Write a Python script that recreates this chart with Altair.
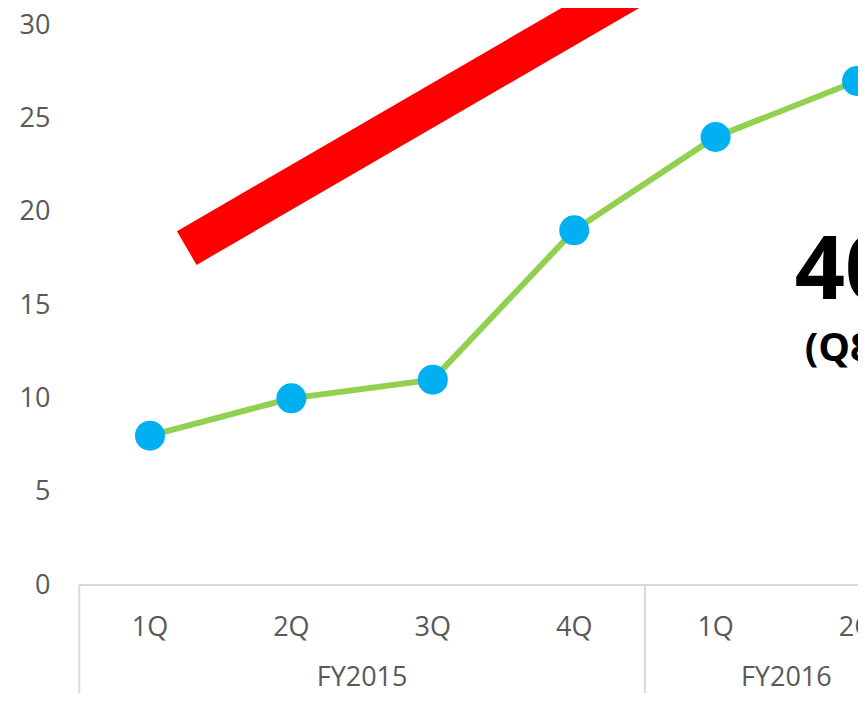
import altair as alt
import pandas as pd

# ---- data ----
quarters = ["1Q", "2Q", "3Q", "4Q", "1Q", "2Q"]
years = ["FY2015", "FY2015", "FY2015", "FY2015", "FY2016", "FY2016"]
values = [8, 10, 11, 19, 24, 27]

year_labels = ["FY2015", "FY2016"]
year_centers = [1.5, 4.5]
group_dividers = [-0.5, 3.5]

arrow_start = (0.26, 18.05)
arrow_end = (3.66, 33.0)

big_text = ["40%"]
sub_text = ["(Q8 vs Q1)"]

# ---- tables ----
df = pd.DataFrame({"idx": list(range(len(values))), "quarter": quarters,
                   "year": years, "value": values})
df_years = pd.DataFrame({"idx": year_centers, "year": year_labels})
df_div = pd.DataFrame({"idx": group_dividers})
df_arrow = pd.DataFrame({"x": [arrow_start[0]], "y": [arrow_start[1]],
                         "x2": [arrow_end[0]], "y2": [arrow_end[1]]})
df_base = pd.DataFrame({"x": [-0.5], "x2": [5.2], "y": [0]})
df_big = pd.DataFrame({"x": [4.56], "y": [15.3], "t": big_text})
df_sub = pd.DataFrame({"x": [4.63], "y": [12.0], "t": sub_text})

FONT = "Open Sans"
GREY = "#595959"
AXIS_LINE = "#d9d9d9"
LABEL_SIZE = 27

PLOT_H = 571

xscale = alt.Scale(domain=[-0.495, 5.007], nice=False, zero=False)
yscale = alt.Scale(domain=[0, 30.59], nice=False, zero=False)
yaxis = alt.Axis(values=[0, 5, 10, 15, 20, 25, 30], title=None, domain=False,
                 ticks=False, tickSize=0, grid=False, labelPadding=30,
                 labelFontSize=LABEL_SIZE, labelColor=GREY, labelFont=FONT)

line = alt.Chart(df).mark_line(color="#92D050", strokeWidth=6).encode(
    x=alt.X("idx:Q", scale=xscale, axis=None),
    y=alt.Y("value:Q", scale=yscale, axis=yaxis),
)
points = alt.Chart(df).mark_circle(color="#00B0F0", size=900, opacity=1).encode(
    x=alt.X("idx:Q", scale=xscale, axis=None),
    y=alt.Y("value:Q", scale=yscale, axis=yaxis),
)
arrow = alt.Chart(df_arrow).mark_rule(color="#FF0000", strokeWidth=39,
                                      strokeCap="butt", clip=False).encode(
    x=alt.X("x:Q", scale=xscale, axis=None), x2="x2:Q",
    y=alt.Y("y:Q", scale=yscale, axis=yaxis), y2="y2:Q",
)
baseline = alt.Chart(df_base).mark_rule(color=AXIS_LINE, strokeWidth=2).encode(
    x=alt.X("x:Q", scale=xscale, axis=None), x2="x2:Q",
    y=alt.Y("y:Q", scale=yscale, axis=yaxis),
)
dividers = alt.Chart(df_div).mark_rule(color=AXIS_LINE, strokeWidth=2).encode(
    x=alt.X("idx:Q", scale=xscale, axis=None),
    y=alt.value(PLOT_H), y2=alt.value(PLOT_H + 120),
)
qlabels = alt.Chart(df).mark_text(font=FONT, fontSize=LABEL_SIZE, color=GREY,
                                  baseline="middle", align="center").encode(
    x=alt.X("idx:Q", scale=xscale, axis=None),
    y=alt.value(614), text="quarter:N",
)
ylabels = alt.Chart(df_years).mark_text(font=FONT, fontSize=LABEL_SIZE, color=GREY,
                                        baseline="middle", align="center").encode(
    x=alt.X("idx:Q", scale=xscale, axis=None),
    y=alt.value(664), text="year:N",
)
big = alt.Chart(df_big).mark_text(font=FONT, fontSize=88, fontWeight="bold",
                                  color="#000000", align="left",
                                  baseline="alphabetic").encode(
    x=alt.X("x:Q", scale=xscale, axis=None),
    y=alt.Y("y:Q", scale=yscale, axis=yaxis), text="t:N",
)
sub = alt.Chart(df_sub).mark_text(font=FONT, fontSize=40, fontWeight="bold",
                                  color="#000000", align="left",
                                  baseline="alphabetic").encode(
    x=alt.X("x:Q", scale=xscale, axis=None),
    y=alt.Y("y:Q", scale=yscale, axis=yaxis), text="t:N",
)

chart = alt.layer(baseline, dividers, arrow, line, points, qlabels, ylabels,
                  big, sub).properties(
    width=778, height=PLOT_H,
    autosize=alt.AutoSizeParams(type="none"),
    padding={"left": 72, "top": 6, "right": 0, "bottom": 108},
    background="white",
).configure_view(stroke=None)

chart.save("out.html", embed_options={"renderer": "svg", "actions": False})
